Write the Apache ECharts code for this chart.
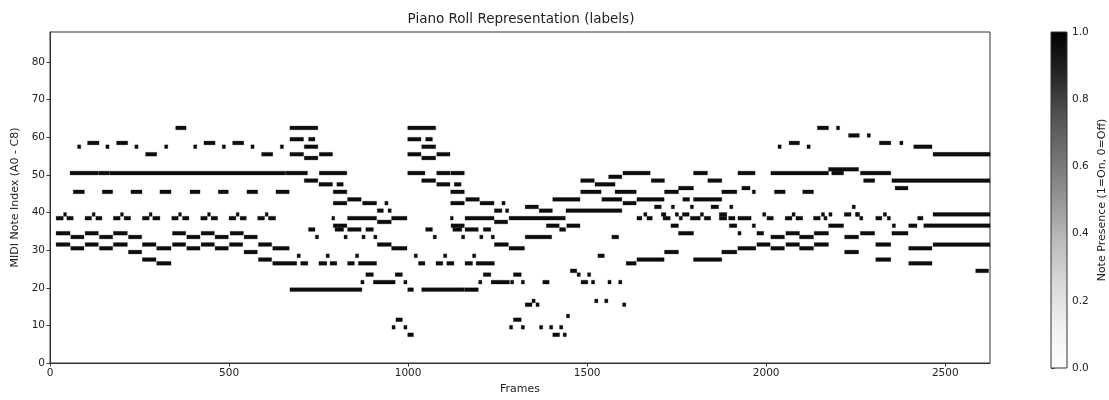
<!DOCTYPE html>
<html><head><meta charset="utf-8">
<script src="https://cdn.jsdelivr.net/npm/echarts@6/dist/echarts.min.js"></script>
<style>html,body{margin:0;padding:0;background:#fff}#c{width:1109px;height:400px}</style>
</head><body><div id="c"></div>
<script>
// Notes as [startFrame, endFrame, pitchIndex]
const notesIntro = [
  [77,86,57],[156,165,57],[237,246,57],[320,329,57],
  [105,137,58],[186,217,58],[267,298,55],
  [56,135,50],[136,166,50],[167,656,50],[657,719,50],
  [65,96,45],[146,175,45],[226,257,45],[307,338,45],
  [17,37,38],[38,46,39],[47,65,38],
  [98,116,38],[118,126,39],[128,145,38],
  [177,196,38],[197,205,39],[207,225,38],
  [258,277,38],[277,285,39],[287,307,38],
  [17,56,34],[98,135,34],[177,216,34],
  [58,95,33],[138,175,33],[219,256,33],
  [17,56,31],[98,135,31],[177,216,31],[258,296,31],
  [58,95,30],[138,175,30],[298,338,30],
  [219,256,29],[258,296,27],[298,338,26]
];
const notesVerse = [
  [351,380,62],
  [401,410,57],[481,490,57],[561,570,57],[643,652,57],
  [430,461,58],[510,541,58],[591,622,55],
  [391,419,45],[470,498,45],[550,580,45],[631,668,45],
  [340,358,38],[359,367,39],[370,388,38],
  [421,439,38],[440,448,39],[450,468,38],
  [500,519,38],[520,528,39],[531,548,38],
  [580,599,38],[601,609,39],[610,630,38],
  [342,379,34],[422,459,34],[503,540,34],
  [382,419,33],[461,498,33],[542,579,33],
  [342,379,31],[422,459,31],[501,538,31],[582,619,31],
  [382,419,30],[461,498,30],[622,668,30],
  [542,579,29],[582,619,27],[622,689,26]
];
const notesBridgeA = [
  [670,748,62],[670,708,59],[722,740,59],[710,748,57],
  [670,708,55],[752,789,55],[710,748,54],
  [752,829,50],[710,748,48],[751,789,47],[801,819,47],
  [791,829,45],[791,829,42],[873,912,42],[935,944,42],
  [831,869,43],[914,931,40],[944,953,40],
  [787,795,38],[831,912,38],[954,997,38],[914,953,37],
  [791,829,36],[796,820,35],[831,869,35],[882,903,35],[722,740,35],
  [741,750,33],[821,830,33],[871,880,33],[904,913,33],
  [914,953,31],[954,997,30],
  [690,699,28],[771,780,28],[853,862,28],
  [700,720,26],[751,773,26],[782,801,26],[831,850,26],[861,912,26],
  [882,903,23],[964,984,23],
  [868,877,21],[903,964,21],[988,997,21],
  [670,871,19],[966,984,11],[955,964,9],[988,997,9]
];
const notesBridgeB = [
  [999,1077,62],[999,1036,59],[1049,1068,59],[1038,1077,57],
  [999,1036,55],[1080,1117,55],[1038,1077,54],
  [999,1047,50],[1080,1117,50],[1119,1157,50],
  [1038,1077,48],[1080,1117,47],[1129,1148,47],[1119,1157,45],
  [1119,1157,42],[1201,1240,42],[1262,1271,42],[1161,1199,43],
  [1241,1262,40],[1272,1281,40],
  [1118,1126,38],[1159,1240,38],[1282,1439,38],[1241,1278,37],
  [1120,1157,36],[1125,1150,35],[1159,1196,35],[1210,1231,35],[1049,1068,35],
  [1070,1079,33],[1149,1158,33],[1200,1209,33],[1232,1241,33],
  [1241,1280,31],[1282,1325,30],
  [1017,1026,28],[1099,1108,28],[1180,1189,28],
  [1029,1047,26],[1078,1097,26],[1108,1128,26],[1159,1180,26],[1190,1241,26],
  [1210,1231,23],[1294,1316,23],
  [1197,1206,21],[1232,1283,21],[1286,1295,21],
  [999,1015,19],[1038,1157,19],[1158,1196,19],
  [1294,1316,11],[1283,1292,9],[999,1015,7]
];
const notesMiddle = [
  [1600,1676,50],[1560,1597,49],[1482,1520,48],[1522,1578,47],
  [1482,1539,45],[1578,1637,45],[1404,1480,43],[1541,1597,43],
  [1600,1637,42],[1327,1364,41],[1366,1403,40],[1441,1597,40],
  [1386,1422,36],[1443,1480,36],[1423,1440,35],
  [1327,1401,33],[1569,1588,33],[1530,1548,28],[1609,1637,26],
  [1453,1471,24],[1472,1481,23],[1501,1510,23],
  [1316,1325,21],[1376,1394,21],[1483,1502,21],[1512,1521,21],[1558,1567,21],[1588,1597,21],
  [1346,1355,16],[1521,1530,16],[1549,1558,16],
  [1327,1346,15],[1357,1366,15],[1599,1608,15],
  [1442,1451,12],
  [1316,1325,9],[1367,1376,9],[1395,1404,9],[1423,1432,9],
  [1404,1423,7],[1433,1442,7]
];
const notesLate = [
  [1797,1836,50],[1921,1969,50],[1679,1716,48],[1837,1876,48],
  [1755,1797,46],[1932,1955,46],
  [1716,1755,45],[1876,1918,45],[1961,1970,45],
  [1639,1715,43],[1767,1786,43],[1797,1876,43],
  [1688,1707,41],[1735,1744,41],[1788,1797,41],[1846,1867,41],[1898,1907,41],
  [1658,1667,39],[1707,1720,39],[1746,1755,39],[1766,1785,39],[1816,1825,39],[1869,1890,39],
  [1639,1653,38],[1667,1682,38],[1712,1732,38],[1757,1766,38],[1788,1816,38],
  [1827,1845,38],[1869,1890,38],[1895,1913,38],[1921,1958,38],
  [1734,1755,36],[1897,1918,36],[1961,1970,36],
  [1755,1797,34],[1921,1930,34],
  [1716,1755,29],[1876,1918,29],[1921,1971,30],
  [1639,1715,27],[1797,1876,27]
];
const notesReprise = [
  [2143,2174,62],[2196,2205,62],[2230,2260,60],[2282,2291,60],
  [2064,2093,58],[2033,2042,57],[2114,2123,57],
  [2013,2174,50],[2174,2258,51],[2183,2216,50],
  [2023,2053,45],[2102,2132,45],[2240,2249,41],
  [1990,1999,39],[2072,2081,39],[2154,2163,39],[2175,2184,39],[2218,2237,39],[2249,2258,39],
  [2002,2020,38],[2053,2072,38],[2083,2102,38],[2132,2151,38],[2161,2170,38],
  [2174,2216,36],
  [1974,1993,34],[2055,2093,34],[2134,2174,34],
  [2013,2051,33],[2093,2132,33],[2219,2258,33],
  [1974,2011,31],[2055,2093,31],[2134,2174,31],
  [2013,2051,30],[2093,2132,30],[2219,2258,29]
];
const notesCoda = [
  [2316,2348,58],[2373,2382,58],[2412,2463,57],[2466,2625,55],
  [2263,2348,50],[2272,2303,48],[2351,2625,48],[2360,2396,46],
  [2252,2261,39],[2327,2336,39],[2466,2625,39],
  [2261,2270,38],[2306,2323,38],[2338,2347,38],[2423,2438,38],
  [2352,2361,36],[2398,2421,36],[2440,2625,36],
  [2263,2303,34],[2351,2396,34],
  [2306,2348,31],[2466,2625,31],[2398,2463,30],
  [2306,2348,27],[2398,2463,26],[2585,2621,24]
];
const xTicks = [0,500,1000,1500,2000,2500];
const yTicks = [0,10,20,30,40,50,60,70,80];
const cbTicks = [0,0.2,0.4,0.6,0.8,1.0];
const nFrames = 2625;
const nPitches = 88;

const allNotes = [].concat(notesIntro, notesVerse, notesBridgeA, notesBridgeB,
  notesMiddle, notesLate, notesReprise, notesCoda);

const FONT = 'DejaVu Sans';
const chart = echarts.init(document.getElementById('c'), null, {renderer:'canvas'});
chart.setOption({
  animation:false,
  backgroundColor:'#fff',
  title:{text:'Piano Roll Representation (labels)', left:521, top:12, padding:0,
    textAlign:'center',
    textStyle:{fontFamily:FONT, fontSize:13.5, fontWeight:'normal', color:'#222'}},
  grid:[
    {left:50, top:32, width:940, height:336, show:true, borderColor:'#333', borderWidth:1, backgroundColor:'#fff'},
    {left:1051, top:32, width:16, height:336}
  ],
  xAxis:[
    {type:'value', gridIndex:0, min:0, max:nFrames, interval:500,
     name:'Frames', nameLocation:'middle', nameGap:21,
     nameTextStyle:{fontFamily:FONT, fontSize:11, color:'#222'},
     axisLine:{show:true, onZero:false, lineStyle:{color:'#333'}},
     axisTick:{show:true, length:3.5, lineStyle:{color:'#333'}, customValues:xTicks},
     axisLabel:{fontFamily:FONT, fontSize:10.5, color:'#222', margin:5, customValues:xTicks,
       formatter:v=>String(v)},
     splitLine:{show:false}},
    {type:'value', gridIndex:1, min:0, max:1, show:false}
  ],
  yAxis:[
    {type:'value', gridIndex:0, min:0, max:nPitches, interval:10,
     name:'MIDI Note Index (A0 - C8)', nameLocation:'middle', nameGap:26, nameRotate:90,
     nameTextStyle:{fontFamily:FONT, fontSize:11, color:'#222'},
     axisLine:{show:true, onZero:false, lineStyle:{color:'#333'}},
     axisTick:{show:true, length:3.5, lineStyle:{color:'#333'}, customValues:yTicks},
     axisLabel:{fontFamily:FONT, fontSize:10.5, color:'#222', margin:5, customValues:yTicks,
       formatter:v=>String(v)},
     splitLine:{show:false}},
    {type:'value', gridIndex:1, min:0, max:1, interval:0.2, position:'right',
     name:'Note Presence (1=On, 0=Off)', nameLocation:'middle', nameGap:30, nameRotate:90,
     nameTextStyle:{fontFamily:FONT, fontSize:11, color:'#222'},
     axisLine:{show:false},
     axisTick:{show:true, length:3.5, lineStyle:{color:'#333'}, customValues:cbTicks},
     axisLabel:{fontFamily:FONT, fontSize:10.5, color:'#222', margin:5, customValues:cbTicks,
       formatter:v=>Number(v).toFixed(1)},
     splitLine:{show:false}}
  ],
  series:[
    {type:'custom', xAxisIndex:0, yAxisIndex:0, data:allNotes, encode:{x:[0,1], y:2},
     renderItem:function(params, api){
       const x0=api.value(0), x1=api.value(1), p=api.value(2);
       const a=api.coord([x0, p+1]), b=api.coord([x1, p]);
       return {type:'rect',
         shape:{x:a[0], y:a[1], width:Math.max(b[0]-a[0],1.5), height:b[1]-a[1]},
         style:{fill:'#0d0d0d', stroke:'rgba(0,0,0,0.28)', lineWidth:1}};
     }},
    {type:'custom', xAxisIndex:1, yAxisIndex:1, data:[[0,0]], silent:true,
     renderItem:function(params, api){
       const a=api.coord([0,1]), b=api.coord([1,0]);
       return {type:'rect',
         shape:{x:a[0], y:a[1], width:b[0]-a[0], height:b[1]-a[1]},
         style:{stroke:'#333', lineWidth:1,
           fill:new echarts.graphic.LinearGradient(0,0,0,1,[
             {offset:0,color:'#000000'},{offset:0.125,color:'#252525'},
             {offset:0.25,color:'#525252'},{offset:0.375,color:'#737373'},
             {offset:0.5,color:'#969696'},{offset:0.625,color:'#bdbdbd'},
             {offset:0.75,color:'#d9d9d9'},{offset:0.875,color:'#f0f0f0'},
             {offset:1,color:'#ffffff'}])}};
     }}
  ]
});
</script></body></html>
